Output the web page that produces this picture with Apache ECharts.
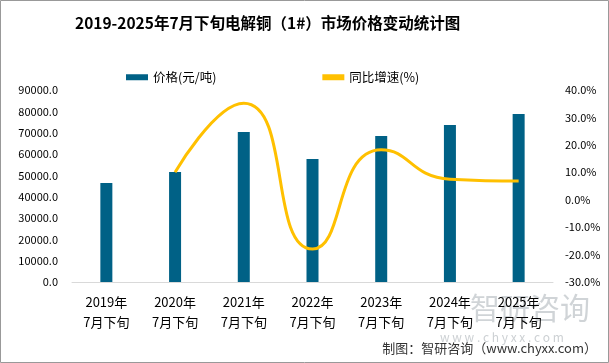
<!DOCTYPE html>
<html><head><meta charset="utf-8">
<script src="https://cdn.jsdelivr.net/npm/echarts@6/dist/echarts.min.js"></script>
<style>html,body{margin:0;padding:0;background:#fff}#c{width:609px;height:363px}</style>
</head><body><div id="c"></div>
<script>
const categories = ['2019年\n7月下旬','2020年\n7月下旬','2021年\n7月下旬','2022年\n7月下旬','2023年\n7月下旬','2024年\n7月下旬','2025年\n7月下旬'];
const priceValues = [46400, 51600, 70300, 57700, 68400, 73600, 78700];
const growthValues = [null, 10.0, 35.2, -18.0, 18.2, 7.5, 6.8];
const leftTicks = {min: 0, max: 90000, interval: 10000};
const rightTicks = {min: -30, max: 40, interval: 10};

const font = '"Noto Sans CJK SC","Microsoft YaHei",sans-serif';
const chart = echarts.init(document.getElementById('c'));
chart.setOption({
  animation: false,
  textStyle: {fontFamily: font},
  title: {
    text: '2019-2025年7月下旬电解铜（1#）市场价格变动统计图',
    left: 70, top: 10,
    textStyle: {fontSize: 15.5, fontWeight: 'bold', color: '#000', fontFamily: font}
  },
  legend: {
    top: 66, left: 121, itemGap: 106,
    itemWidth: 22, itemHeight: 6,
    textStyle: {fontSize: 12.5, color: '#000', fontFamily: font},
    data: [
      {name: '价格(元/吨)', icon: 'rect'},
      {name: '同比增速(%)', icon: 'rect', itemStyle: {color: '#FFC000'}}
    ]
  },
  grid: {left: 72, right: 56, top: 90, bottom: 81},
  xAxis: {
    type: 'category', data: categories,
    axisLine: {lineStyle: {color: '#d9d9d9'}},
    axisTick: {show: false},
    axisLabel: {fontSize: 13, color: '#000', lineHeight: 20, margin: 10, interval: 0}
  },
  yAxis: [
    {type: 'value', min: leftTicks.min, max: leftTicks.max, interval: leftTicks.interval,
     splitLine: {show: false}, axisLine: {show: false}, axisTick: {show: false},
     axisLabel: {fontSize: 11, color: '#000', margin: 14, formatter: v => v.toFixed(1)}},
    {type: 'value', min: rightTicks.min, max: rightTicks.max, interval: rightTicks.interval,
     splitLine: {show: false}, axisLine: {show: false}, axisTick: {show: false},
     axisLabel: {fontSize: 11, color: '#000', margin: 12, formatter: v => v.toFixed(1) + '%'}}
  ],
  series: [
    {name: '价格(元/吨)', type: 'bar', data: priceValues, barWidth: 12,
     itemStyle: {color: '#006186'}},
    {name: '同比增速(%)', type: 'line', yAxisIndex: 1, data: growthValues, smooth: 0.55,
     showSymbol: false, symbol: 'none', connectNulls: false,
     lineStyle: {color: '#FFC000', width: 3}, itemStyle: {color: '#FFC000'}}
  ],
  graphic: [
    {type: 'rect', shape: {x: 0.5, y: 0.5, width: 608, height: 362},
     style: {fill: 'none', stroke: '#999', lineWidth: 1}, silent: true},
    {type: 'text', left: 470, top: 293, z: -1, silent: true,
     style: {text: '智研咨询', fontSize: 30, fill: 'rgba(170,176,182,0.55)', fontFamily: font}},
    {type: 'text', left: 440, top: 331, z: -1, silent: true,
     style: {text: 'w w w . c h y x x . c o m', fontSize: 12, fill: 'rgba(170,176,182,0.6)', fontFamily: font}},
    {type: 'text', right: 12, top: 342, silent: true,
     style: {text: '制图：智研咨询（www.chyxx.com）', fontSize: 13, fill: '#333', fontFamily: font}}
  ]
});
</script></body></html>
